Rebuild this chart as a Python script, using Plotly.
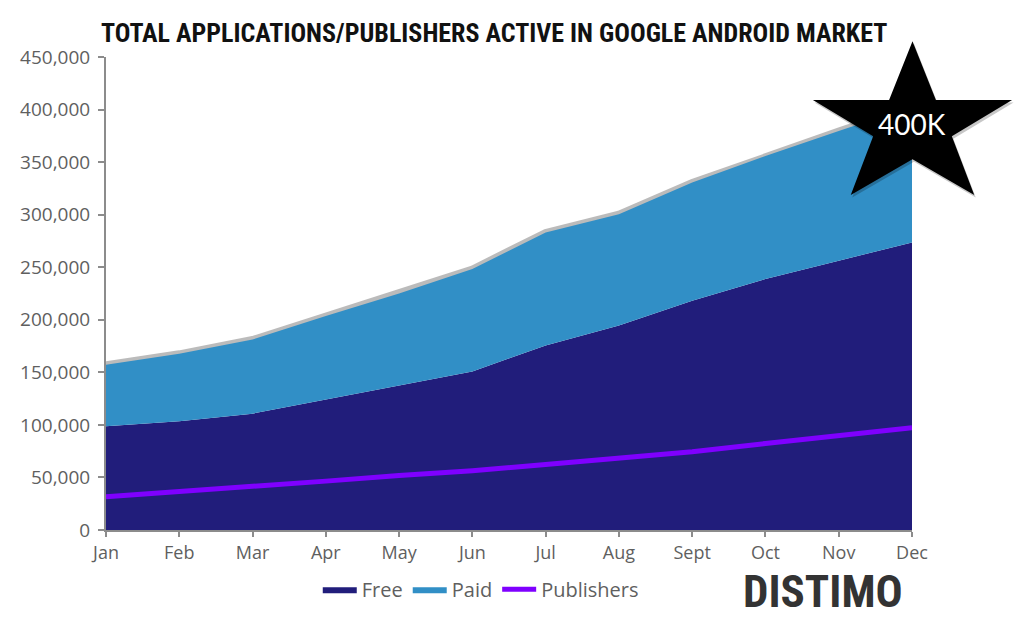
import plotly.graph_objects as go

months = ["Jan", "Feb", "Mar", "Apr", "May", "Jun", "Jul", "Aug", "Sept", "Oct", "Nov", "Dec"]
free_apps = [98700, 103400, 110700, 124300, 137600, 150900, 175500, 194500, 218200, 238800, 256200, 273600]
total_apps = [157200, 167600, 181200, 203700, 225000, 248300, 283100, 300500, 330500, 355800, 379500, 403000]
paid_apps = [t - f for t, f in zip(total_apps, free_apps)]
publishers = [31700, 36400, 41200, 46500, 51800, 56400, 62300, 68000, 74400, 82300, 90100, 97200]

# page has an 8px body margin, so the figure is drawn from (8, 8)
OFF = 8
W, H = 1024 - OFF, 621 - OFF
# plot area in page pixels
L, R, T, B = 102.7, 912.0, 57.4, 532.5

def px(x):
    return (x - L) / (R - L)

def py(y):
    return (B - y) / (B - T)

fig = go.Figure()

# soft shadow along the top edge of the stacked area
fig.add_trace(go.Scatter(x=months, y=total_apps, mode="lines",
                         line=dict(color="rgba(120,120,120,0.5)", width=7),
                         showlegend=False, hoverinfo="skip"))

fig.add_trace(go.Scatter(x=months, y=free_apps, name="Free", mode="lines",
                         stackgroup="apps", line=dict(width=0, color="#211d7b"),
                         fillcolor="#211d7b"))
fig.add_trace(go.Scatter(x=months, y=paid_apps, name="Paid", mode="lines",
                         stackgroup="apps", line=dict(width=0, color="#318fc6"),
                         fillcolor="#318fc6"))
fig.add_trace(go.Scatter(x=months, y=publishers, name="Publishers", mode="lines",
                         line=dict(color="#7f00ff", width=5)))

axis_color = "#8c8c8c"
tick_font = dict(family="Open Sans, Lato, sans-serif", size=18, color="#5f5f5f")

fig.update_layout(
    width=W, height=H,
    margin=dict(l=L - OFF, r=W - (R - OFF), t=T - OFF, b=H - (B - OFF)),
    plot_bgcolor="white", paper_bgcolor="white",
    showlegend=True,
    legend=dict(orientation="h", x=px(479), xanchor="center", y=py(592), yanchor="middle",
                font=dict(family="Open Sans, Lato, sans-serif", size=20, color="#5f5f5f"),
                traceorder="normal", itemwidth=34, bgcolor="rgba(0,0,0,0)"),
    xaxis=dict(range=[0, 11], showgrid=False, zeroline=False, showline=True,
               linecolor=axis_color, linewidth=2, ticks="outside", ticklen=5,
               tickcolor=axis_color, tickwidth=1.5, tickfont=tick_font, ticklabelstandoff=0),
    yaxis=dict(range=[0, 450000], dtick=50000, tickformat=",", showgrid=False,
               zeroline=False, showline=True, linecolor=axis_color, linewidth=2,
               ticks="outside", ticklen=6, tickcolor=axis_color, tickwidth=1.5,
               tickfont=dict(family="Open Sans, Lato, sans-serif", size=19, color="#5f5f5f"),
               ticklabelstandoff=4),
)

fig.add_annotation(text="TOTAL APPLICATIONS/PUBLISHERS ACTIVE IN GOOGLE ANDROID MARKET",
                   xref="paper", yref="paper", x=px(492), y=py(33),
                   xanchor="center", yanchor="middle", showarrow=False,
                   font=dict(family="Roboto Condensed, Liberation Sans Narrow, Roboto, sans-serif",
                             size=26, color="#111111", weight="bold"))

# star badge (page pixel outline)
star_pts = [(912.5, 41.5), (936, 100.5), (1012.5, 100.5), (952, 137), (974.5, 196),
            (912.5, 160), (850.5, 196), (873, 137), (812.5, 100.5), (889, 100.5)]

def star_path(dx=0, dy=0):
    parts = []
    for i, (x, y) in enumerate(star_pts):
        parts.append(("M" if i == 0 else "L") + f"{px(x + dx):.5f},{py(y + dy):.5f}")
    return " ".join(parts) + " Z"

fig.add_shape(type="path", path=star_path(1.5, 2.5), xref="paper", yref="paper",
              fillcolor="rgba(0,0,0,0.22)", line=dict(width=0), layer="above")
fig.add_shape(type="path", path=star_path(), xref="paper", yref="paper",
              fillcolor="black", line=dict(width=0), layer="above")
fig.add_annotation(text="400K", xref="paper", yref="paper", x=px(912), y=py(125),
                   xanchor="center", yanchor="middle", showarrow=False,
                   font=dict(family="Lato, Open Sans, sans-serif", size=28, color="white"))

# logo
fig.add_annotation(text="DISTIMO", xref="paper", yref="paper", x=px(823), y=py(594),
                   xanchor="center", yanchor="middle", showarrow=False,
                   font=dict(family="Roboto Condensed, Liberation Sans Narrow, Roboto, sans-serif",
                             size=45, color="#333333", weight="bold"))

fig.write_html("out.html")
